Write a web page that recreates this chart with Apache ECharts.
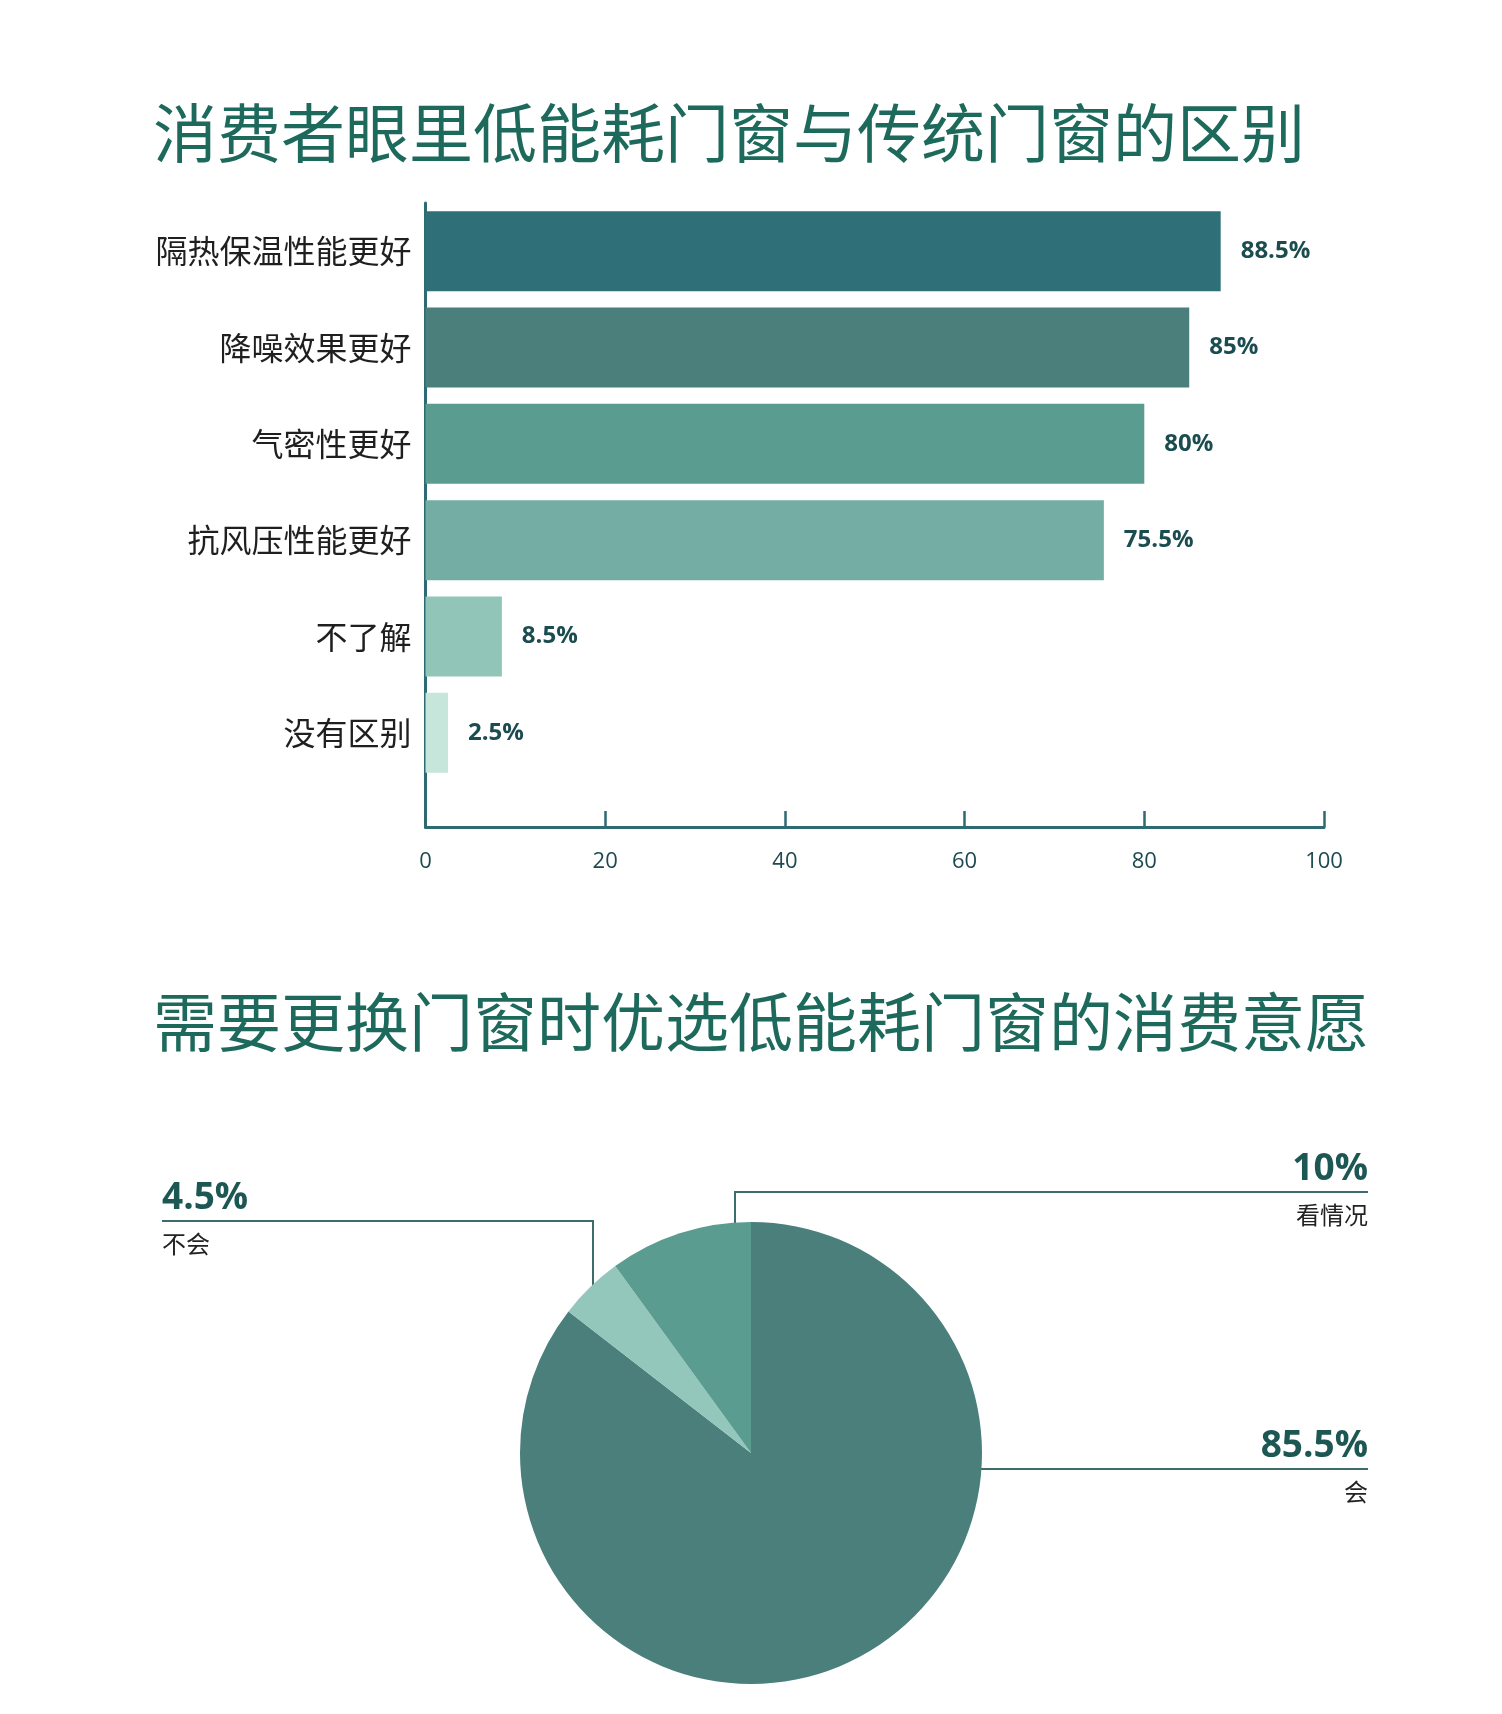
<!DOCTYPE html>
<html>
<head>
<meta charset="utf-8">
<script src="https://cdn.jsdelivr.net/npm/echarts@6/dist/echarts.min.js"></script>
<style>
html,body{margin:0;padding:0;background:#ffffff;}
#chart{width:1502px;height:1714px;}
</style>
</head>
<body>
<div id="chart"></div>
<script>
// ---- data ----
const title1 = '消费者眼里低能耗门窗与传统门窗的区别';
const title2 = '需要更换门窗时优选低能耗门窗的消费意愿';
const barCategories = ['隔热保温性能更好', '降噪效果更好', '气密性更好', '抗风压性能更好', '不了解', '没有区别'];
const barValues = [88.5, 85, 80, 75.5, 8.5, 2.5];
const xTicks = [0, 20, 40, 60, 80, 100];
const pieNames = ['会', '不会', '看情况'];
const pieValues = [85.5, 4.5, 10];

// ---- styles ----
const barColors = ['#2e6f78', '#4a7f7c', '#5a9c8f', '#74ada3', '#91c5b7', '#c6e5db'];
const pieColors = ['#4a7f7c', '#93c7bb', '#5a9c8f'];
const axisColor = '#2d6a72';
const titleColor = '#1d6a5c';
const cjk = '"Noto Sans CJK SC", "Noto Sans", sans-serif';
const num = '"Open Sans", "Noto Sans", sans-serif';

// pie label placement (annotation layout)
const pieLabelLayout = [
  { x: 1368, y: 1469, align: 'right', pts: [[800, 1469], [1100, 1469], [1368, 1469]] },
  { x: 162, y: 1221, align: 'left', pts: [[593, 1300], [593, 1221], [162, 1221]] },
  { x: 1368, y: 1192, align: 'right', pts: [[735, 1266], [735, 1192], [1368, 1192]] }
];

const chart = echarts.init(document.getElementById('chart'), null, { renderer: 'canvas' });

const axisMin = xTicks[0], axisMax = xTicks[xTicks.length - 1], axisStep = xTicks[1] - xTicks[0];

const option = {
  backgroundColor: '#ffffff',
  animation: false,
  title: [
    { text: title1, left: 148, top: 96, padding: 5,
      textStyle: { fontSize: 64, fontWeight: 'normal', color: titleColor, fontFamily: cjk } },
    { text: title2, left: 148, top: 985, padding: 5,
      textStyle: { fontSize: 64, fontWeight: 'normal', color: titleColor, fontFamily: cjk } }
  ],
  grid: [
    { left: 425.5, right: 178, top: 203, height: 578, containLabel: false },
    { left: 425.5, right: 178, top: 203, height: 624, containLabel: false }
  ],
  xAxis: [
    { gridIndex: 0, type: 'value', min: axisMin, max: axisMax, interval: axisStep, show: false },
    { gridIndex: 1, type: 'value', min: axisMin, max: axisMax, interval: axisStep,
      axisLine: { show: true, onZero: false, lineStyle: { color: axisColor, width: 3 } },
      axisTick: { show: true, inside: true, length: 16, lineStyle: { color: axisColor, width: 2.5 } },
      axisLabel: { margin: 24, fontSize: 22, fontWeight: 500, color: '#1d4a50', fontFamily: num },
      splitLine: { show: false } }
  ],
  yAxis: [
    { gridIndex: 0, type: 'category', data: barCategories, inverse: true,
      axisLine: { show: false }, axisTick: { show: false },
      axisLabel: { margin: 14, fontSize: 32, color: '#1f1f1f', fontFamily: cjk },
      splitLine: { show: false } },
    { gridIndex: 1, type: 'value', min: 0, max: 1,
      axisLine: { show: true, onZero: false, lineStyle: { color: axisColor, width: 3 } },
      axisTick: { show: false }, axisLabel: { show: false }, splitLine: { show: false } }
  ],
  series: [
    {
      type: 'bar',
      xAxisIndex: 0, yAxisIndex: 0,
      barCategoryGap: '17%',
      data: barValues.map((v, i) => ({ value: v, itemStyle: { color: barColors[i] } })),
      label: {
        show: true, position: 'right', distance: 20,
        formatter: p => p.value + '%',
        fontSize: 24, fontWeight: 'bold', color: '#1b4d50', fontFamily: num
      }
    },
    {
      type: 'pie',
      center: [751, 1453],
      radius: 231,
      startAngle: 90,
      clockwise: true,
      avoidLabelOverlap: false,
      data: pieValues.map((v, i) => ({ name: pieNames[i], value: v, itemStyle: { color: pieColors[i] } })),
      label: {
        show: true,
        position: 'outside',
        formatter: p => '{v|' + p.value + '%}\n{n|' + p.name + '}',
        rich: {
          v: { fontSize: 37, fontWeight: 'bold', color: '#1d5753', lineHeight: 46, fontFamily: num },
          n: { fontSize: 24, color: '#222222', lineHeight: 46, fontFamily: cjk }
        }
      },
      labelLine: { show: true, smooth: false, lineStyle: { color: '#3e6b6b', width: 2 } },
      labelLayout: function (params) {
        const L = pieLabelLayout[params.dataIndex];
        return { x: L.x, y: L.y, align: L.align, verticalAlign: 'middle', labelLinePoints: L.pts };
      },
      emphasis: { disabled: true }
    }
  ]
};

chart.setOption(option);
</script>
</body>
</html>
